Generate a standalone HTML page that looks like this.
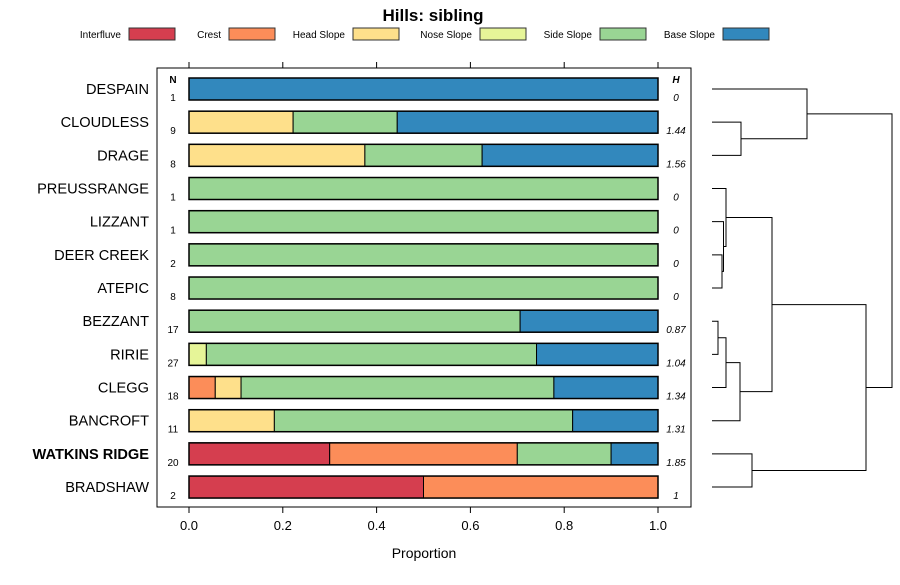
<!DOCTYPE html>
<html><head><meta charset="utf-8"><style>
body{margin:0;background:#fff;}
svg{font-family:"Liberation Sans",sans-serif;}
</style></head><body>
<svg id="chart" width="900" height="580" viewBox="0 0 900 580">
<text x="433" y="21" text-anchor="middle" font-size="17" font-weight="bold">Hills: sibling</text>
<g id="legend"></g>
<rect x="157" y="68" width="534" height="439" fill="none" stroke="#000" stroke-width="1"/>
<g id="bars"></g>
<g id="axes"></g>
<g id="dendro"></g>
<text x="173" y="83" text-anchor="middle" font-size="10" font-weight="bold">N</text>
<text x="676" y="83" text-anchor="middle" font-size="10" font-weight="bold" font-style="italic">H</text>
<text x="424" y="558" text-anchor="middle" font-size="14">Proportion</text>
</svg>
<script>
const classes = ["Interfluve","Crest","Head Slope","Nose Slope","Side Slope","Base Slope"];
const colors = ["#D53E4F","#FC8D59","#FEE08B","#E6F598","#99D594","#3288BD"];
const sites = ["DESPAIN","CLOUDLESS","DRAGE","PREUSSRANGE","LIZZANT","DEER CREEK","ATEPIC","BEZZANT","RIRIE","CLEGG","BANCROFT","WATKINS RIDGE","BRADSHAW"];
const nVals = [1,9,8,1,1,2,8,17,27,18,11,20,2];
const hVals = ["0","1.44","1.56","0","0","0","0","0.87","1.04","1.34","1.31","1.85","1"];
const props = [
 [0,0,0,0,0,1],
 [0,0,0.222,0,0.222,0.556],
 [0,0,0.375,0,0.25,0.375],
 [0,0,0,0,1,0],
 [0,0,0,0,1,0],
 [0,0,0,0,1,0],
 [0,0,0,0,1,0],
 [0,0,0,0,0.706,0.294],
 [0,0,0,0.037,0.704,0.259],
 [0,0.056,0.055,0,0.667,0.222],
 [0,0,0.182,0,0.636,0.182],
 [0.3,0.4,0,0,0.2,0.1],
 [0.5,0.5,0,0,0,0]
];
const xTicks = [0,0.2,0.4,0.6,0.8,1.0];
const xTickLabels = ["0.0","0.2","0.4","0.6","0.8","1.0"];
// dendrogram merges: [childA, childB, height]; leaves are row indices, nodes "nK"
const merges = [
 [1,2,29],[0,"n0",95],[5,6,10],[4,"n2",11.5],[3,"n3",14],
 [7,8,6],[9,"n5",14],[10,"n6",28],["n4","n7",60],[11,12,40],["n8","n9",154],["n1","n10",180]
];
const NS="http://www.w3.org/2000/svg";
function mk(t,a,p){const e=document.createElementNS(NS,t);for(const k in a)e.setAttribute(k,a[k]);p.appendChild(e);return e;}
const x0=189,x1=658;
const xs=v=>x0+(x1-x0)*v;
const ys=i=>89+i*33.17;
const bh=22;
const bars=document.getElementById('bars');
sites.forEach((s,i)=>{
  const y=ys(i);
  const lab=mk('text',{x:149,y:y+5,'text-anchor':'end','font-size':14.6,'font-weight':s==="WATKINS RIDGE"?'bold':'normal'},bars);
  lab.textContent=s;
  
  
  let c=0;
  props[i].forEach((p,k)=>{
    if(p<=0)return;
    const r=mk('rect',{x:xs(c),y:y-bh/2,width:xs(c+p)-xs(c),height:bh,fill:colors[k],stroke:'#000','stroke-width':1},bars);
    
    
    c+=p;
  });
  const o=mk('rect',{x:xs(0),y:y-bh/2,width:xs(1)-xs(0),height:bh,fill:'none',stroke:'#000','stroke-width':1.5},bars);
  
  
  const n=mk('text',{x:173,y:y+12,'text-anchor':'middle','font-size':10},bars);
  n.textContent=nVals[i];
  
  
  const h=mk('text',{x:676,y:y+12,'text-anchor':'middle','font-size':10,'font-style':'italic'},bars);
  h.textContent=hVals[i];
  
  
});
const axes=document.getElementById('axes');
xTicks.forEach((t,i)=>{
  const x=xs(t);
  const a=mk('line',{x1:x,x2:x,y1:507,y2:513,stroke:'#000'},axes);
  
  
  const b=mk('line',{x1:x,x2:x,y1:62,y2:68,stroke:'#000'},axes);
  
  
  const l=mk('text',{x:x,y:530,'text-anchor':'middle','font-size':13},axes);
  l.textContent=xTickLabels[i];
  
  
});
// legend
const leg=document.getElementById('legend');
const legRectX=[129,229,353,480,600,723];
classes.forEach((c,i)=>{
  const t=mk('text',{x:legRectX[i]-8,y:38,'text-anchor':'end','font-size':10},leg);
  t.textContent=c;
  
  
  const r=mk('rect',{x:legRectX[i],y:28,width:46,height:12,fill:colors[i],stroke:'#333'},leg);
  
  
});
// dendrogram
const dg=document.getElementById('dendro');
const leafX=712, hs=h=>leafX+h;
const nodes={};
const getNode=k=>typeof k==="number"?{x:leafX,y:ys(k)}:nodes[k];
merges.forEach((m,i)=>{
  const a=getNode(m[0]),b=getNode(m[1]),hx=hs(m[2]);
  const p=mk('path',{d:`M${a.x},${a.y}H${hx}V${b.y}H${b.x}`,fill:'none',stroke:'#000','stroke-width':1},dg);
  
  
  nodes["n"+i]={x:hx,y:(a.y+b.y)/2};
});
</script>
</body></html>
